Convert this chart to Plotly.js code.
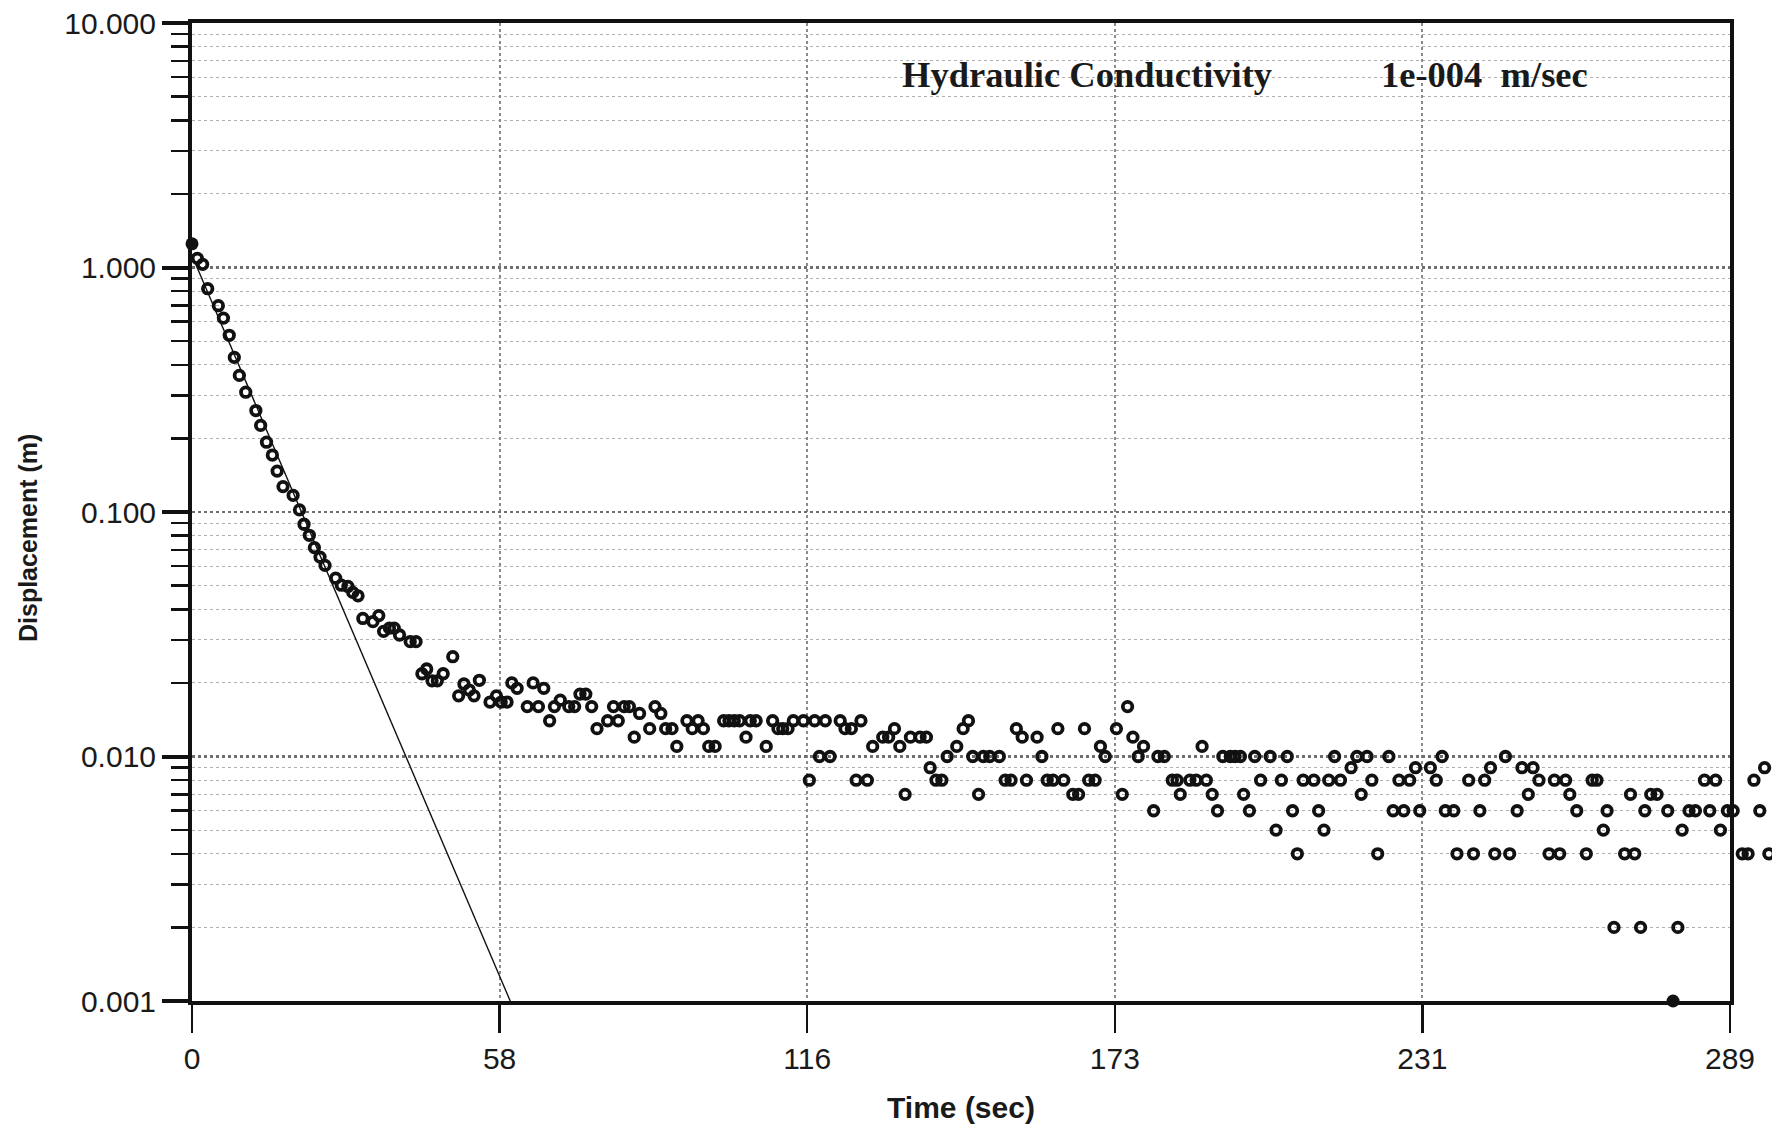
<!DOCTYPE html>
<html>
<head>
<meta charset="utf-8">
<script src="https://cdn.plot.ly/plotly-3.0.1.min.js"></script>
<style>
  html, body { margin: 0; padding: 0; background: #ffffff; }
  #chart { width: 1772px; height: 1129px; }
</style>
</head>
<body>
<div id="chart"></div>
<script>
// ---- Data ----
const timeSec = [
  1.0, 2.0, 2.95, 4.95, 5.9, 7.0, 7.95, 8.9, 10.1, 12.0, 12.9, 14.0, 15.1, 16.0, 17.1, 19.0, 20.2, 21.05, 22.05, 23.0,
  24.06, 25.0, 27.0, 28.06, 29.3, 30.2, 31.2, 32.1, 34.0, 35.1, 36.0, 37.1, 38.0, 39.0, 41.0, 42.1, 43.2, 44.1, 45.1, 46.1,
  47.2, 49.0, 50.1, 51.1, 52.1, 53.0, 54.0, 56.0, 57.2, 58.1, 59.2, 60.1, 61.1, 63.0, 64.1, 65.1, 66.1, 67.2, 68.1, 69.2,
  70.8, 71.9, 72.9, 74.0, 75.1, 76.1, 78.1, 79.2, 80.1, 81.2, 82.2, 83.1, 84.1, 86.0, 87.0, 88.1, 89.0, 90.2, 91.1, 93.0,
  94.0, 95.1, 96.1, 97.1, 98.3, 99.9, 100.9, 101.9, 102.9, 104.1, 104.9, 106.0, 107.9, 109.1, 110.1, 111.0, 112.0, 113.0, 114.9, 116.0,
  117.0, 117.9, 119.0, 119.9, 121.8, 122.7, 123.9, 124.8, 125.7, 126.9, 127.9, 129.8, 130.9, 132.0, 133.0, 134.0, 135.0, 136.8, 138.0, 138.7,
  139.8, 140.9, 141.9, 143.7, 144.9, 145.9, 146.7, 147.8, 148.7, 149.9, 151.7, 152.8, 153.9, 154.9, 156.0, 156.8, 158.8, 159.7, 160.7, 161.8,
  162.7, 163.8, 165.5, 166.6, 167.7, 168.5, 169.7, 170.7, 171.6, 173.7, 174.8, 175.8, 176.8, 177.8, 178.8, 180.7, 181.5, 182.7, 184.2, 185.1,
  185.7, 187.5, 188.7, 189.8, 190.6, 191.7, 192.7, 193.7, 195.1, 196.0, 197.0, 197.6, 198.7, 199.7, 200.8, 202.6, 203.7, 204.7, 205.8, 206.8,
  207.7, 208.8, 210.8, 211.7, 212.7, 213.6, 214.7, 215.8, 217.8, 218.9, 219.7, 220.8, 221.7, 222.8, 224.9, 225.7, 226.8, 227.7, 228.8, 229.9,
  230.7, 232.7, 233.8, 234.9, 235.5, 237.1, 237.7, 239.9, 240.8, 242.0, 242.9, 244.0, 244.8, 246.8, 247.6, 249.0, 249.9, 251.1, 252.0, 253.1,
  255.0, 256.0, 257.0, 258.1, 258.9, 260.2, 262.0, 263.1, 264.0, 265.2, 265.9, 267.2, 269.2, 270.3, 271.1, 272.2, 273.0, 274.1, 275.3, 277.3,
  279.2, 280.0, 281.3, 282.5, 284.2, 285.2, 286.3, 287.2, 288.5, 289.6, 291.3, 292.4, 293.5, 294.6, 295.5, 296.3
];
const displacementM = [
  1.09, 1.03, 0.819, 0.698, 0.621, 0.528, 0.429, 0.362, 0.309, 0.260, 0.226, 0.193, 0.171, 0.147, 0.127, 0.117, 0.102, 0.0891, 0.0803, 0.0715,
  0.0654, 0.0605, 0.0536, 0.0502, 0.0496, 0.0469, 0.0454, 0.0367, 0.0356, 0.0377, 0.0325, 0.0335, 0.0335, 0.0314, 0.0295, 0.0295, 0.0218, 0.0228, 0.0204, 0.0204,
  0.0218, 0.0256, 0.0177, 0.0198, 0.0187, 0.0177, 0.0205, 0.0167, 0.0177, 0.0167, 0.0167, 0.020, 0.019, 0.016, 0.020, 0.016, 0.019, 0.014, 0.016, 0.017,
  0.016, 0.016, 0.018, 0.018, 0.016, 0.013, 0.014, 0.016, 0.014, 0.016, 0.016, 0.012, 0.015, 0.013, 0.016, 0.015, 0.013, 0.013, 0.011, 0.014,
  0.013, 0.014, 0.013, 0.011, 0.011, 0.014, 0.014, 0.014, 0.014, 0.012, 0.014, 0.014, 0.011, 0.014, 0.013, 0.013, 0.013, 0.014, 0.014, 0.008,
  0.014, 0.010, 0.014, 0.010, 0.014, 0.013, 0.013, 0.008, 0.014, 0.008, 0.011, 0.012, 0.012, 0.013, 0.011, 0.007, 0.012, 0.012, 0.012, 0.009,
  0.008, 0.008, 0.010, 0.011, 0.013, 0.014, 0.010, 0.007, 0.010, 0.010, 0.010, 0.008, 0.008, 0.013, 0.012, 0.008, 0.012, 0.010, 0.008, 0.008,
  0.013, 0.008, 0.007, 0.007, 0.013, 0.008, 0.008, 0.011, 0.010, 0.013, 0.007, 0.016, 0.012, 0.010, 0.011, 0.006, 0.010, 0.010, 0.008, 0.008,
  0.007, 0.008, 0.008, 0.011, 0.008, 0.007, 0.006, 0.010, 0.010, 0.010, 0.010, 0.007, 0.006, 0.010, 0.008, 0.010, 0.005, 0.008, 0.010, 0.006,
  0.004, 0.008, 0.008, 0.006, 0.005, 0.008, 0.010, 0.008, 0.009, 0.010, 0.007, 0.010, 0.008, 0.004, 0.010, 0.006, 0.008, 0.006, 0.008, 0.009,
  0.006, 0.009, 0.008, 0.010, 0.006, 0.006, 0.004, 0.008, 0.004, 0.006, 0.008, 0.009, 0.004, 0.010, 0.004, 0.006, 0.009, 0.007, 0.009, 0.008,
  0.004, 0.008, 0.004, 0.008, 0.007, 0.006, 0.004, 0.008, 0.008, 0.005, 0.006, 0.002, 0.004, 0.007, 0.004, 0.002, 0.006, 0.007, 0.007, 0.006,
  0.002, 0.005, 0.006, 0.006, 0.008, 0.006, 0.008, 0.005, 0.006, 0.006, 0.004, 0.004, 0.008, 0.006, 0.009, 0.004
];
// filled markers: first reading and the one sitting on the lower axis
const filledTime = [0, 278.3];
const filledDisp = [1.25, 0.001];
// straight-line fit
const fitTime = [0, 59.8];
const fitDisp = [1.12, 0.001];
// axis ticks
const xTickVals = [0, 57.8, 115.6, 173.4, 231.2, 289];
const xTickText = ["0", "58", "116", "173", "231", "289"];
const yTickVals = [0.001, 0.01, 0.1, 1, 10];
const yTickText = ["0.001", "0.010", "0.100", "1.000", "10.000"];
const xMax = 289;

const yMinorVals = [];
[0.001, 0.01, 0.1, 1].forEach(function (d) { for (let k = 2; k <= 9; k++) yMinorVals.push(+(d * k).toPrecision(3)); });

// pixel geometry of the frame
const W = 1772, H = 1129, ML = 192, MT = 23, MB = 128;
const frameRight = 1730;                         // right edge of the plotted frame
const plotW = W - ML;                            // full drawing width (margin r = 0)
const xDomainEnd = (frameRight - ML) / plotW;
const pxPerSec = (frameRight - ML) / xMax;
const x2Max = xMax + (W - frameRight) / pxPerSec; // readings recorded past the frame end

// split readings: inside frame range / past the end of the frame
const inT = [], inD = [], outT = [], outD = [];
timeSec.forEach(function (t, i) {
  if (t <= xMax) { inT.push(t); inD.push(displacementM[i]); }
  else { outT.push(t); outD.push(displacementM[i]); }
});

const openMarker = { symbol: 'circle-open', size: 9.5, color: '#111', line: { width: 3.8, color: '#111' } };

const traces = [
  {
    x: fitTime, y: fitDisp, mode: 'lines', type: 'scatter',
    line: { color: '#111', width: 1.4 }, hoverinfo: 'skip', showlegend: false
  },
  {
    x: inT, y: inD, mode: 'markers', type: 'scatter', cliponaxis: false,
    marker: openMarker, showlegend: false
  },
  {
    x: outT, y: outD, xaxis: 'x2', yaxis: 'y2', mode: 'markers', type: 'scatter', cliponaxis: false,
    marker: openMarker, showlegend: false
  },
  {
    x: filledTime, y: filledDisp, mode: 'markers', type: 'scatter', cliponaxis: false,
    marker: { symbol: 'circle', size: 13, color: '#111' }, showlegend: false
  }
];

const tickFont = { family: 'Liberation Sans, Arial, sans-serif', size: 30, color: '#1a1a1a' };

const layout = {
  width: W, height: H,
  paper_bgcolor: '#ffffff', plot_bgcolor: 'rgba(0,0,0,0)',
  margin: { l: ML, r: 0, t: MT, b: MB, pad: 0 },
  showlegend: false,
  xaxis: {
    type: 'linear', range: [0, xMax], autorange: false, domain: [0, xDomainEnd], anchor: 'y',
    tickmode: 'array', tickvals: xTickVals, ticktext: xTickText,
    ticks: 'outside', ticklen: 28, tickwidth: 2.5, tickcolor: '#111',
    tickfont: tickFont,
    showline: true, linecolor: '#111', linewidth: 4, mirror: true,
    showgrid: true, gridcolor: '#8a8a8a', gridwidth: 2, griddash: 'dot',
    zeroline: false, automargin: false,
    title: { text: 'Time (sec)', font: { family: 'Liberation Sans, Arial, sans-serif', size: 30, color: '#1a1a1a', weight: 'bold' }, standoff: 24 }
  },
  yaxis: {
    type: 'log', range: [-3, 1], autorange: false, anchor: 'x',
    tickmode: 'array', tickvals: yTickVals, ticktext: yTickText,
    ticks: 'outside', ticklen: 26, tickwidth: 4, tickcolor: '#111',
    tickfont: tickFont,
    showline: true, linecolor: '#111', linewidth: 4, mirror: true,
    showgrid: true, gridcolor: '#6f6f6f', gridwidth: 2.5, griddash: 'dot',
    minor: {
      tickmode: 'array', tickvals: yMinorVals,
      ticks: 'outside', ticklen: 17, tickwidth: 2.5, tickcolor: '#111',
      showgrid: true, gridcolor: '#b0b0b0', gridwidth: 1, griddash: 'dot'
    },
    zeroline: false, automargin: false
  },
  xaxis2: {
    type: 'linear', range: [xMax, x2Max], autorange: false, domain: [xDomainEnd, 1], anchor: 'y2',
    visible: false, showgrid: false, zeroline: false
  },
  yaxis2: {
    type: 'log', range: [-3, 1], autorange: false, domain: [0, 1], anchor: 'x2',
    visible: false, showgrid: false, zeroline: false
  },
  annotations: [
    {
      xref: 'paper', yref: 'paper', x: (900 - ML) / plotW, y: 0.947, xanchor: 'left', yanchor: 'middle',
      text: 'Hydraulic Conductivity', showarrow: false,
      font: { family: 'Liberation Serif, Times New Roman, serif', size: 36.5, color: '#1a1a1a', weight: 'bold' }
    },
    {
      xref: 'paper', yref: 'paper', x: (1379 - ML) / plotW, y: 0.947, xanchor: 'left', yanchor: 'middle',
      text: '1e-004\u00A0\u00A0m/sec', showarrow: false,
      font: { family: 'Liberation Serif, Times New Roman, serif', size: 36.5, color: '#1a1a1a', weight: 'bold' }
    },
    {
      xref: 'paper', yref: 'paper', x: (28 - ML) / plotW, y: (1001 - 538) / (1001 - MT),
      xanchor: 'center', yanchor: 'middle', textangle: -90,
      text: 'Displacement (m)', showarrow: false,
      font: { family: 'Liberation Sans, Arial, sans-serif', size: 25, color: '#1a1a1a', weight: 'bold' }
    }
  ]
};

Plotly.newPlot('chart', traces, layout, { staticPlot: true, displayModeBar: false });
</script>
</body>
</html>
